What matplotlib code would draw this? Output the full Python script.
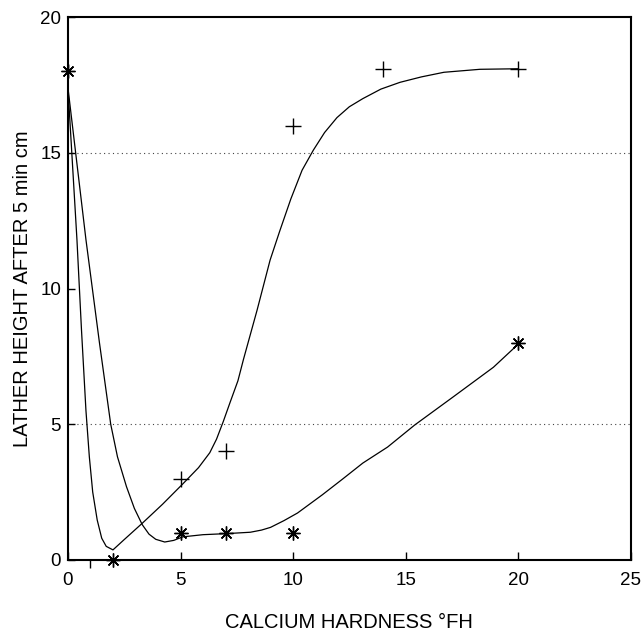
import matplotlib
matplotlib.use("Agg")
import matplotlib.pyplot as plt

# measured points
plus_x = [5, 7, 10, 14, 20]
plus_y = [3, 4, 16, 18.1, 18.1]
star_x = [0, 2, 5, 7, 10, 20]
star_y = [18, 0, 1, 1, 1, 8]

# hand-drawn fit curves
fit_plus_x = [0.0, 0.2, 0.4, 0.6, 0.8, 0.95, 1.1, 1.3, 1.5, 1.7, 2.0, 2.5, 3.3,
              4.2, 5.1, 5.8, 6.3, 6.6, 6.9, 7.2, 7.55, 7.8, 8.4, 8.98, 9.4, 9.9,
              10.4, 10.9, 11.4, 11.95, 12.5, 13.1, 13.9, 14.75, 15.7, 16.7,
              18.3, 20.0]
fit_plus_y = [17.4, 14.6, 11.8, 8.5, 5.5, 3.8, 2.5, 1.47, 0.8, 0.5, 0.37, 0.75,
              1.35, 2.05, 2.8, 3.4, 3.95, 4.45, 5.1, 5.8, 6.6, 7.4, 9.2, 11.05,
              12.1, 13.3, 14.36, 15.1, 15.75, 16.3, 16.7, 17.0, 17.35, 17.6,
              17.8, 17.97, 18.08, 18.1]
fit_star_x = [0.0, 0.8, 1.4, 1.9, 2.2, 2.6, 2.95, 3.3, 3.6, 3.9, 4.3, 4.7, 5.1,
              6.0, 7.06, 8.1, 8.6, 9.0, 9.6, 10.2, 11.3, 12.2, 13.1, 14.2, 15.4,
              17.1, 18.9, 20.0]
fit_star_y = [17.4, 11.8, 8.0, 5.0, 3.8, 2.7, 1.9, 1.3, 0.95, 0.76, 0.66, 0.72,
              0.85, 0.93, 0.97, 1.02, 1.1, 1.2, 1.45, 1.73, 2.4, 2.98, 3.57,
              4.16, 4.97, 6.0, 7.1, 7.95]

x_ticks = [0, 5, 10, 15, 20, 25]
y_ticks = [0, 5, 10, 15, 20]
grid_y = [5, 15]

plt.rcParams["font.family"] = ["Liberation Sans", "DejaVu Sans"]

fig = plt.figure(figsize=(6.41, 6.37), dpi=100)
ax = fig.add_axes([0.106, 0.121, 0.878, 0.852])

for g in grid_y:
    ax.axhline(g, color="#444444", lw=0.8, ls=(0, (1, 3)), zorder=1)

ax.plot(fit_plus_x, fit_plus_y, color="black", lw=0.9, zorder=2)
ax.plot(fit_star_x, fit_star_y, color="black", lw=0.9, zorder=2)
ax.plot(plus_x, plus_y, ls="none", marker="+", ms=11, mew=1.0, color="black",
        zorder=3, clip_on=False)
ax.plot(star_x, star_y, ls="none", marker=(8, 2, 0), ms=10, mew=1.0,
        color="black", zorder=3, clip_on=False)

ax.set_xlim(0, 25)
ax.set_ylim(0, 20)
ax.set_xticks(x_ticks)
ax.set_xticks([1], minor=True)
ax.set_yticks(y_ticks)
ax.tick_params(axis="both", direction="in", labelsize=13.5, color="black")
ax.tick_params(axis="x", which="both", length=6, width=1.0, pad=9)
ax.tick_params(axis="y", length=5, width=1.0, pad=5)

for s in ax.spines.values():
    s.set_linewidth(1.5)

ax.set_xlabel("CALCIUM HARDNESS °FH", fontsize=14.5, labelpad=17)
ax.set_ylabel("LATHER HEIGHT AFTER 5 min cm", fontsize=14.5, labelpad=6)

fig.savefig("out.png", dpi=100)
